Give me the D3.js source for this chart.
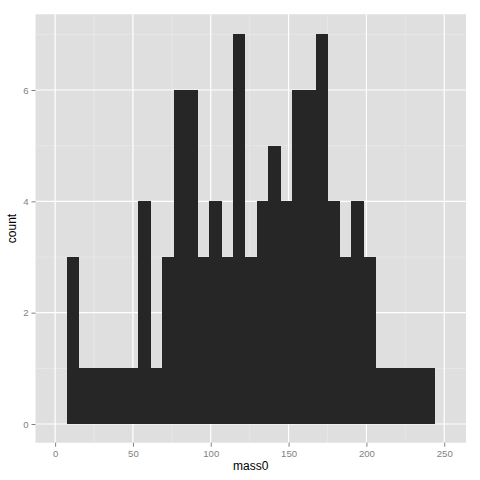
<!DOCTYPE html>
<html>
<head>
<meta charset="utf-8">
<script src="https://cdn.jsdelivr.net/npm/d3@7"></script>
<style>
  body { margin: 0; background: #fff; }
  text { font-family: "Liberation Sans", Arial, sans-serif; }
</style>
</head>
<body>
<div id="chart"></div>
<script>
// histogram counts, 31 bins
var counts = [3, 1, 1, 1, 1, 1, 4, 1, 3, 6, 6, 3, 4, 3, 7, 3,
              4, 5, 4, 6, 6, 7, 4, 3, 4, 3, 1, 1, 1, 1, 1];
var binStart = 7.7, binWidth = 7.61;
var xTicks = [0, 50, 100, 150, 200, 250];
var xMinor = [25, 75, 125, 175, 225];
var yTicks = [0, 2, 4, 6];
var yMinor = [1, 3, 5, 7];
var xLabel = "mass0", yLabel = "count";

var W = 480, H = 480;
var panel = {left: 35.5, top: 14.3, right: 466, bottom: 442.7};

var svg = d3.select("#chart").append("svg")
  .attr("width", W)
  .attr("height", H);

var x = d3.scaleLinear().domain([-12.6, 264]).range([panel.left, panel.right]);
var y = d3.scaleLinear().domain([-0.336, 7.36]).range([panel.bottom, panel.top]);

var bins = counts.map(function(c, i) {
  return {x0: binStart + i * binWidth, x1: binStart + (i + 1) * binWidth, count: c};
});

/****** PANEL + GRID ******/
svg.append("rect")
  .attr("x", panel.left).attr("y", panel.top)
  .attr("width", panel.right - panel.left)
  .attr("height", panel.bottom - panel.top)
  .attr("fill", "#dfdfdf");

var grid = svg.append("g");
grid.selectAll(".xminor").data(xMinor).enter().append("line")
  .attr("x1", d => x(d)).attr("x2", d => x(d))
  .attr("y1", panel.top).attr("y2", panel.bottom)
  .attr("stroke", "#ececec").attr("stroke-width", 0.6);
grid.selectAll(".yminor").data(yMinor).enter().append("line")
  .attr("y1", d => y(d)).attr("y2", d => y(d))
  .attr("x1", panel.left).attr("x2", panel.right)
  .attr("stroke", "#ececec").attr("stroke-width", 0.6);
grid.selectAll(".xmajor").data(xTicks).enter().append("line")
  .attr("x1", d => x(d)).attr("x2", d => x(d))
  .attr("y1", panel.top).attr("y2", panel.bottom)
  .attr("stroke", "#fff").attr("stroke-width", 1.2);
grid.selectAll(".ymajor").data(yTicks).enter().append("line")
  .attr("y1", d => y(d)).attr("y2", d => y(d))
  .attr("x1", panel.left).attr("x2", panel.right)
  .attr("stroke", "#fff").attr("stroke-width", 1.2);

/****** BARS ******/
svg.append("g")
  .attr("shape-rendering", "crispEdges")
  .selectAll("rect")
  .data(bins)
  .enter()
  .append("rect")
    .attr("x", d => x(d.x0))
    .attr("width", d => x(d.x1) - x(d.x0) + 0.5)
    .attr("y", d => y(d.count))
    .attr("height", d => y(0) - y(d.count))
    .attr("fill", "#262626");

/****** AXES ******/
var xAxis = svg.append("g")
  .attr("transform", "translate(0," + panel.bottom + ")")
  .call(d3.axisBottom(x).tickValues(xTicks).tickSize(4).tickPadding(3));
var yAxis = svg.append("g")
  .attr("transform", "translate(" + panel.left + ",0)")
  .call(d3.axisLeft(y).tickValues(yTicks).tickSize(4).tickPadding(3));

[xAxis, yAxis].forEach(function(a) {
  a.select(".domain").remove();
  a.selectAll(".tick line").attr("stroke", "#7f7f7f");
  a.selectAll(".tick text")
    .attr("fill", "#7f7f7f")
    .style("font-size", "9.6px")
    .style("font-family", "'Liberation Sans', Arial, sans-serif");
});

svg.append("text")
  .attr("x", (panel.left + panel.right) / 2)
  .attr("y", 470)
  .attr("text-anchor", "middle")
  .style("font-size", "12px")
  .text(xLabel);

svg.append("text")
  .attr("transform", "translate(16," + (panel.top + panel.bottom) / 2 + ") rotate(-90)")
  .attr("text-anchor", "middle")
  .style("font-size", "12px")
  .text(yLabel);
</script>
</body>
</html>
